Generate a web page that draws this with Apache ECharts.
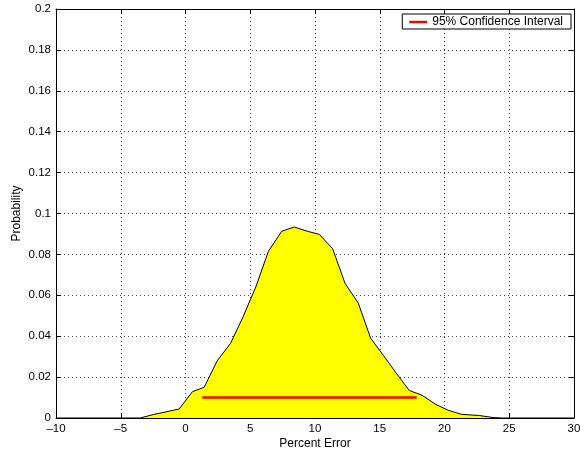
<!DOCTYPE html>
<html>
<head>
<meta charset="utf-8">
<script src="https://cdn.jsdelivr.net/npm/echarts@6/dist/echarts.min.js"></script>
<style>html,body{margin:0;padding:0;background:#fff}#c{width:585px;height:452px}</style>
</head>
<body>
<div id="c"></div>
<script>
const percentError = [-10, -3.5, -2.48, -1.5, -0.49, 0.54, 1.44, 2.44, 3.47, 4.42, 5.43, 6.40, 7.43, 8.40, 9.41, 10.33, 11.36, 12.31, 13.34, 14.29, 15.27, 16.30, 17.27, 18.27, 19.31, 20.28, 21.31, 22.7, 23.75, 24.5, 30];
const probability  = [0, 0, 0.0017, 0.0030, 0.0044, 0.0129, 0.0150, 0.0279, 0.0364, 0.0491, 0.0641, 0.0815, 0.0913, 0.0934, 0.0913, 0.0898, 0.0828, 0.0660, 0.0562, 0.0391, 0.0307, 0.0217, 0.0135, 0.0111, 0.0067, 0.0038, 0.0018, 0.0012, 0.0002, 0, 0];
const ciX = [1.3, 17.85];
const ciY = [0.01, 0.01];
const ciName = '95% Confidence Interval';
const xTicks = [-10, 30, 5];
const yTicks = [0, 0.2, 0.02];

const font = 'Liberation Sans, Arial, Helvetica, sans-serif';
const chart = echarts.init(document.getElementById('c'), null, {renderer: 'canvas'});
const gridLine = {show: true, lineStyle: {color: '#444', type: [1, 3], width: 1}};
const baseAxis = {
  axisLine: {show: true, onZero: false, lineStyle: {color: '#000', width: 1}},
  axisTick: {show: true, inside: true, length: 5, lineStyle: {color: '#000'}},
  axisLabel: {color: '#000', fontSize: 11.5, fontFamily: font},
};
chart.setOption({
  animation: false,
  backgroundColor: '#fff',
  grid: {left: 56, right: 11, top: 9, bottom: 34, show: false, containLabel: false, outerBoundsMode: 'none'},
  legend: {
    data: [{name: ciName, icon: 'rect'}],
    right: 14, top: 14,
    itemWidth: 18, itemHeight: 2.5, itemGap: 5,
    padding: [2, 8, 1, 7],
    borderColor: '#000', borderWidth: 1, backgroundColor: '#fff', borderRadius: 0,
    textStyle: {fontSize: 12, fontFamily: font, color: '#000'}
  },
  xAxis: [
    Object.assign({}, baseAxis, {
      type: 'value', min: xTicks[0], max: xTicks[1], interval: xTicks[2], position: 'bottom',
      name: 'Percent Error', nameLocation: 'middle', nameGap: 20, nameMoveOverlap: false,
      nameTextStyle: {fontSize: 12, fontFamily: font, color: '#000'},
      axisLabel: {color: '#000', fontSize: 11.5, fontFamily: font, margin: 5,
        formatter: v => (v < 0 ? '\u2013' + Math.abs(v) : String(v))},
      splitLine: gridLine
    }),
    Object.assign({}, baseAxis, {
      type: 'value', min: xTicks[0], max: xTicks[1], interval: xTicks[2], position: 'top',
      axisLabel: {show: false}, splitLine: {show: false}
    })
  ],
  yAxis: [
    Object.assign({}, baseAxis, {
      type: 'value', min: yTicks[0], max: yTicks[1], interval: yTicks[2], position: 'left',
      name: 'Probability', nameLocation: 'middle', nameGap: 33, nameMoveOverlap: false,
      nameTextStyle: {fontSize: 12, fontFamily: font, color: '#000'},
      axisLabel: {color: '#000', fontSize: 11.5, fontFamily: font, margin: 5,
        formatter: v => String(+v.toFixed(2))},
      splitLine: gridLine
    }),
    Object.assign({}, baseAxis, {
      type: 'value', min: yTicks[0], max: yTicks[1], interval: yTicks[2], position: 'right',
      axisLabel: {show: false}, splitLine: {show: false}
    })
  ],
  series: [
    {
      name: 'pdf', type: 'line', xAxisIndex: 0, yAxisIndex: 0,
      data: percentError.map((x, i) => [x, probability[i]]),
      showSymbol: false, symbol: 'none',
      lineStyle: {color: '#000', width: 1},
      areaStyle: {color: '#ffff00', opacity: 1},
      z: 2
    },
    {
      name: ciName, type: 'line', xAxisIndex: 0, yAxisIndex: 0,
      data: ciX.map((x, i) => [x, ciY[i]]),
      showSymbol: false, symbol: 'none',
      itemStyle: {color: '#ff0000'},
      lineStyle: {color: '#ff0000', width: 2.5},
      z: 3
    }
  ]
});
</script>
</body>
</html>
